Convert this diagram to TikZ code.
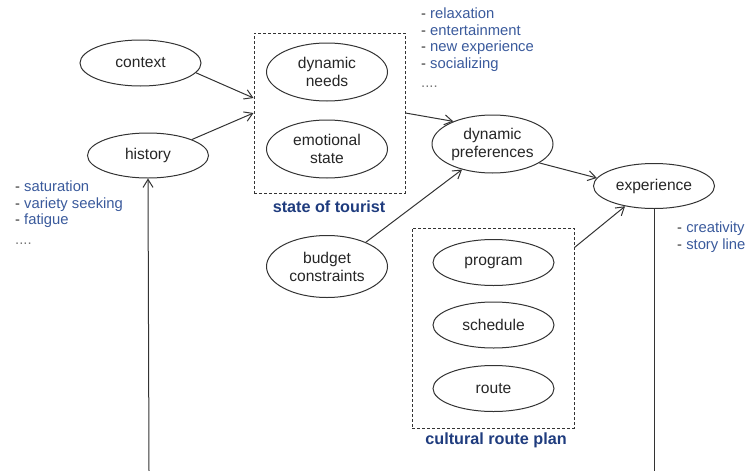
\documentclass[tikz,border=0pt]{standalone}
\usepackage{fontspec}
\setmainfont{Liberation Sans}
\usetikzlibrary{shapes.geometric,arrows.meta}
\definecolor{inkgray}{HTML}{333333}
\definecolor{listblue}{HTML}{3A5A9C}
\definecolor{labelnavy}{HTML}{1F3C7E}
\definecolor{dotgray}{HTML}{777777}
\newcommand{\itemdash}{{\color{inkgray}-}}
\tikzset{
  concept/.style={draw=inkgray, line width=1pt, ellipse, inner sep=0pt,
    minimum width=121pt, minimum height=46pt, align=center,
    font=\fontsize{15.6}{18}\selectfont, text=black!85},
  group/.style={draw=inkgray, line width=1pt, dash pattern=on 3pt off 2pt,
    rectangle, inner sep=0pt},
  grouplabel/.style={font=\fontsize{16.2}{18}\selectfont\bfseries, text=labelnavy},
  listtext/.style={align=left, inner sep=0pt, text=listblue,
    font=\fontsize{14.8}{16.5}\selectfont},
  link/.style={draw=inkgray, line width=1pt,
    -{Straight Barb[length=8pt,width=10pt,line width=1pt]}},
  plain/.style={draw=inkgray, line width=1pt}
}
\begin{document}
\begin{tikzpicture}[x=1pt,y=-1pt]
  \useasboundingbox (0,0) rectangle (752,471);

  % state of tourist
  \node[group, minimum width=151pt, minimum height=160pt] (tourist) at (329.5,113) {};
  \node[concept, minimum height=58pt] (needs) at (327,72) {dynamic\\needs};
  \node[concept, minimum height=58pt] (emotion) at (327,149) {emotional\\state};
  \node[grouplabel] (touristlabel) at (329,207) {state of tourist};

  % cultural route plan
  \node[group, minimum width=162pt, minimum height=200pt] (plan) at (493,328) {};
  \node[concept] (program) at (493.5,262.5) {program};
  \node[concept] (schedule) at (493.5,325) {schedule};
  \node[concept] (route) at (493.5,388.5) {route};
  \node[grouplabel] (planlabel) at (496,440) {cultural route plan};

  % other concepts
  \node[concept] (context) at (140.5,63) {context};
  \node[concept, minimum height=45pt] (history) at (148,155.5) {history};
  \node[concept, minimum height=58pt] (prefs) at (492.5,144) {dynamic\\preferences};
  \node[concept, minimum height=45pt] (experience) at (654,186) {experience};
  \node[concept, minimum height=62pt] (budget) at (327,266.5) {budget\\constraints};

  % annotation lists
  \node[listtext, anchor=north west] (motives) at (421,8)
    {\itemdash{} relaxation\\ \itemdash{} entertainment\\ \itemdash{} new experience\\
     \itemdash{} socializing\\[3pt] {\color{dotgray}....}};
  \node[listtext, anchor=north west] (effects) at (15,181)
    {\itemdash{} saturation\\ \itemdash{} variety seeking\\ \itemdash{} fatigue\\[3pt]
     {\color{dotgray}....}};
  \node[listtext, anchor=north west] (qualities) at (677,222)
    {\itemdash{} creativity\\ \itemdash{} story line};

  % free ends below the picture
  \coordinate (histfoot) at (149,471);
  \coordinate (expfoot) at (654,471);

  % connectors
  \draw[link] (context.-10) -- ([yshift=15pt]tourist.west);
  \draw[link] (history.20) -- (tourist.west);
  \draw[link] (tourist.east) -- (prefs.150);
  \draw[link] (prefs.-22) -- (experience.172);
  \draw[link] (budget.32) -- (prefs.-140);
  \draw[link] ([yshift=-20pt]plan.north east) -- (experience.-145);
  \draw[link] (histfoot) -- (history.south);
  \draw[plain] (experience.south) -- (expfoot);
\end{tikzpicture}
\end{document}
